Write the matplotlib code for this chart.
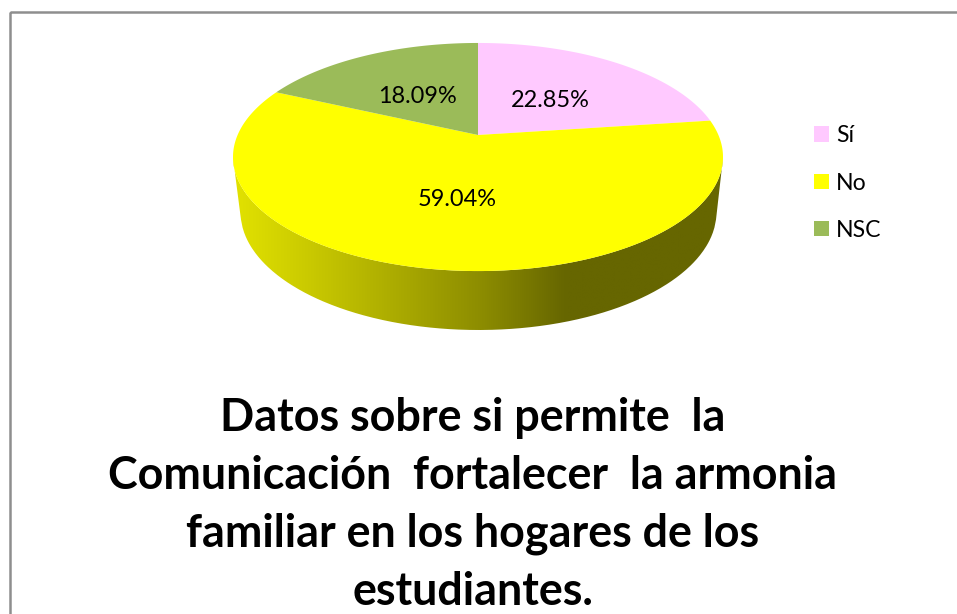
import numpy as np
import matplotlib
matplotlib.use("Agg")
import matplotlib.pyplot as plt
from matplotlib.path import Path
from matplotlib.patches import PathPatch, Rectangle
from matplotlib.transforms import Transform, Affine2D
from matplotlib.colors import LinearSegmentedColormap

plt.rcParams['font.family'] = ['Lato', 'DejaVu Sans']

categories = ['Sí', 'No', 'NSC']
values = [22.85, 59.04, 18.09]
colors = ['#FFC9FF', '#FFFF00', '#9BBB59']
title = ('Datos sobre si permite  la\nComunicación  fortalecer  la armonia\n'
         'familiar en los hogares de los\nestudiantes.')

W, H = 957, 614
CX, CY = 478, 135      # pixel position of the pie centre
K, A, B = 0.193, 109.8, 240.4   # perspective of the tilted disc


class Perspective(Transform):
    input_dims = output_dims = 2
    is_separable = False
    has_inverse = False

    def transform_non_affine(self, xy):
        xy = np.asarray(xy, float)
        d = 1 + K * xy[:, 1]
        return np.column_stack([CX + B * xy[:, 0] / d, CY - A * xy[:, 1] / d])

    def transform_path_non_affine(self, path):
        polys = path.to_polygons(Affine2D().scale(2000), closed_only=False)
        v = np.vstack(polys) / 2000
        return Path(self.transform_non_affine(v))


fig = plt.figure(figsize=(W / 100, H / 100), dpi=100)
ax = fig.add_axes([0, 0, 1, 1])

total = sum(values)
wedges, _, autotexts = ax.pie(values, colors=colors, startangle=90, counterclock=False,
                              autopct=lambda p: f'{p * total / 100:.2f}%', pctdistance=0.5,
                              wedgeprops={'linewidth': 0, 'zorder': 3},
                              textprops={'fontsize': 16.9, 'color': '#000000', 'zorder': 5})
ax.set_aspect('auto')
ax.set_xlim(0, W)
ax.set_ylim(H, 0)
ax.set_axis_off()

persp = Perspective() + ax.transData
for w in wedges:
    w.set_transform(persp)
for t in autotexts:
    t.set_transform(persp + Affine2D().translate(-1, -4))

# Side wall of the 3D pie: gradient clipped to the band under the disc
t = np.linspace(0, 2 * np.pi, 721)
front = Perspective().transform_non_affine(np.column_stack([np.cos(t), np.sin(t)]))
lo = front[front[:, 1] >= 157]
lo = lo[np.argsort(lo[:, 0])]
bx = np.linspace(241, 716, 300)
by = 212 + 118 * np.sqrt(np.clip(1 - ((bx - 478.5) / 238) ** 2, 0, 1))
band = np.vstack([lo, np.column_stack([bx, by])[::-1]])
side_cmap = LinearSegmentedColormap.from_list(
    'side', [(0, '#E2E200'), (0.14, '#CCCC00'), (0.5, '#8E8E00'),
             (0.68, '#666600'), (1, '#666600')])
im = ax.imshow(np.linspace(0, 1, 256)[None, :], cmap=side_cmap, aspect='auto',
               extent=(233, 723, 335, 150), zorder=2, interpolation='bilinear')
ax.set_xlim(0, W)
ax.set_ylim(H, 0)
clip = PathPatch(Path(band), transform=ax.transData, fc='none', ec='none')
ax.add_patch(clip)
im.set_clip_path(clip)

# Chart frame (runs off the right and bottom edges of the picture)
ax.add_patch(Rectangle((10, 11.5), 1000, 700, fc='none', ec='#8E8E8E', lw=1.8, zorder=1))

# Legend
handles = [Rectangle((0, 0), 1, 1, fc=c, ec='none') for c in colors]
leg = ax.legend(handles, categories, loc='upper left', bbox_to_anchor=(805 / W, 1 - 116 / H),
                frameon=False, fontsize=16.6, handlelength=0.65, handleheight=0.65,
                handletextpad=0.3, labelspacing=1.14, borderpad=0, borderaxespad=0.4)

ax.text(473, 505, title, ha='center', va='center', fontsize=32.3, fontweight='bold',
        linespacing=1.466, color='#000000', zorder=5)

fig.savefig('out.png', dpi=100, facecolor='white')
